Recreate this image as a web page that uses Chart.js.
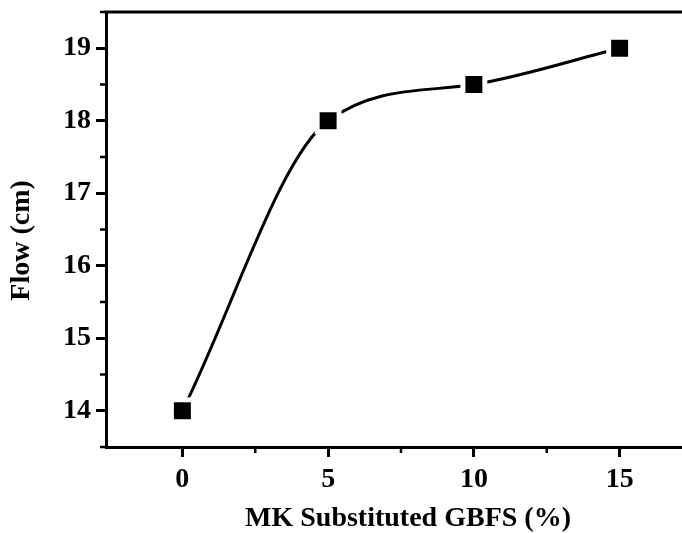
<!DOCTYPE html>
<html>
<head>
<meta charset="utf-8">
<script src="https://cdn.jsdelivr.net/npm/chart.js@4.4.1/dist/chart.umd.min.js"></script>
<style>
  html, body { margin: 0; padding: 0; background: #fff; }
  #wrap { width: 682px; height: 533px; overflow: hidden; position: relative; }
  #flowChart { position: absolute; left: 0; top: 0; }
</style>
</head>
<body>
<div id="wrap"><canvas id="flowChart" width="720" height="533" style="width:720px;height:533px"></canvas></div>
<script>
// DATA
const mkPercent = [0, 5, 10, 15];
const flowCm = [14, 18, 18.5, 19];
const xMajorTicks = [0, 5, 10, 15];
const xMinorTicks = [2.5, 7.5, 12.5, 17.5];
const yMajorTicks = [14, 15, 16, 17, 18, 19];
const yMinorTicks = [13.5, 14.5, 15.5, 16.5, 17.5, 18.5, 19.5];
const xTitle = 'MK Substituted GBFS (%)';
const yTitle = 'Flow (cm)';

const points = mkPercent.map((x, i) => ({ x: x, y: flowCm[i] }));
const FONT = '"Liberation Serif", "Times New Roman", serif';

// minor ticks, top border and y title
const framePlugin = {
    id: 'frame',
    afterDraw(chart) {
        const ctx = chart.ctx;
        const a = chart.chartArea;
        const xs = chart.scales.x, ys = chart.scales.y;
        ctx.save();
        ctx.strokeStyle = '#000';
        ctx.lineWidth = 3;
        ctx.beginPath();
        ctx.moveTo(a.left - 1.5, a.top);
        ctx.lineTo(a.right, a.top);
        ctx.stroke();
        ctx.lineWidth = 2.5;
        ctx.beginPath();
        xMinorTicks.forEach(v => {
            const px = xs.getPixelForValue(v);
            ctx.moveTo(px, a.bottom);
            ctx.lineTo(px, a.bottom + 6);
        });
        yMinorTicks.forEach(v => {
            const py = ys.getPixelForValue(v);
            ctx.moveTo(a.left, py);
            ctx.lineTo(a.left - 6, py);
        });
        ctx.stroke();

        // y title sits a little below the middle of the axis
        ctx.translate(22, ys.getPixelForValue(16.35));
        ctx.rotate(-Math.PI / 2);
        ctx.fillStyle = '#000';
        ctx.font = 'bold 28px ' + FONT;
        ctx.textAlign = 'center';
        ctx.textBaseline = 'middle';
        ctx.fillText(yTitle, 0, 0);
        ctx.restore();
    }
};

new Chart(document.getElementById('flowChart'), {
    type: 'scatter',
    data: {
        datasets: [
            { // black square markers (drawn last)
                data: points, order: 0, showLine: false,
                pointStyle: 'rect', pointRadius: 12, pointHoverRadius: 12,
                pointBackgroundColor: '#000', pointBorderColor: '#000', pointBorderWidth: 0
            },
            { // white halo that leaves a gap in the line round each marker
                data: points, order: 1, showLine: false,
                pointStyle: 'rect', pointRadius: 19, pointHoverRadius: 19,
                pointBackgroundColor: '#fff', pointBorderColor: '#fff', pointBorderWidth: 0
            },
            { // smooth line
                data: points, order: 2, showLine: true,
                borderColor: '#000', borderWidth: 3, cubicInterpolationMode: 'monotone',
                pointRadius: 0, pointHoverRadius: 0, fill: false
            }
        ]
    },
    options: {
        responsive: false,
        animation: false,
        devicePixelRatio: 1,
        events: [],
        layout: { autoPadding: false, padding: { top: 12, right: 10, left: 0, bottom: 0 } },
        plugins: { legend: { display: false }, tooltip: { enabled: false } },
        scales: {
            x: {
                type: 'linear', min: -2.62, max: 18.1,
                afterBuildTicks: s => { s.ticks = xMajorTicks.map(v => ({ value: v })); },
                afterFit: s => { s.height = 86; s.paddingLeft = 0; s.paddingRight = 0; },
                border: { display: true, color: '#000', width: 3 },
                grid: { drawOnChartArea: false, drawTicks: true, tickLength: 10, tickWidth: 3, tickColor: '#000' },
                ticks: { color: '#000', padding: 6, font: { family: FONT, size: 28, weight: 'bold' } },
                title: {
                    display: true, text: xTitle, color: '#000',
                    padding: { top: 10, bottom: 0 },
                    font: { family: FONT, size: 28, weight: 'bold', lineHeight: 1 }
                }
            },
            y: {
                type: 'linear', min: 13.5, max: 19.5,
                afterBuildTicks: s => { s.ticks = yMajorTicks.map(v => ({ value: v })); },
                afterFit: s => { s.width = 106; s.paddingTop = 0; s.paddingBottom = 0; },
                border: { display: true, color: '#000', width: 3 },
                grid: { drawOnChartArea: false, drawTicks: true, tickLength: 10, tickWidth: 3, tickColor: '#000' },
                ticks: { color: '#000', padding: 5, font: { family: FONT, size: 28, weight: 'bold' } }
            }
        }
    },
    plugins: [framePlugin]
});
</script>
</body>
</html>
